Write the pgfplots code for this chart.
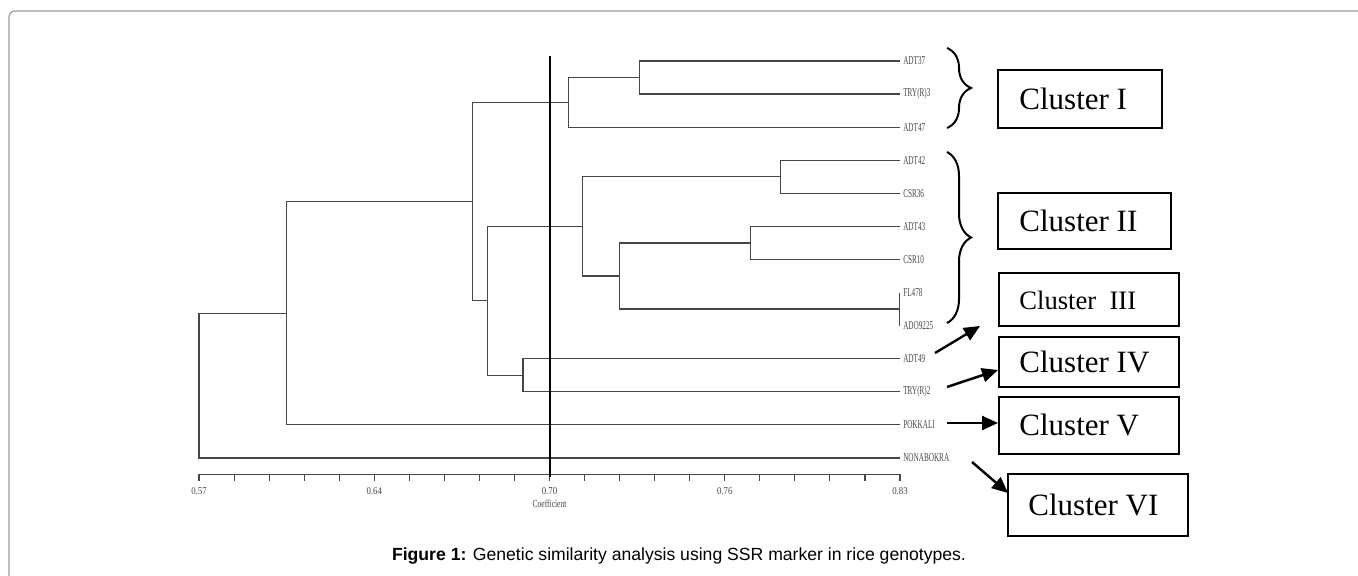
\documentclass[border=0pt]{standalone}
\usepackage{fontspec}
\setmainfont{Liberation Serif}
\newfontfamily\capfont{Liberation Sans}
\usepackage{pgfplots}
\pgfplotsset{compat=1.18}
\usetikzlibrary{arrows.meta,decorations.pathreplacing}

\definecolor{branch}{gray}{0.28}
\definecolor{framegray}{gray}{0.62}

\tikzset{
    br/.style={branch,line width=0.6pt},
    leaf/.style={anchor=west,inner sep=0pt,xshift=1.5pt,
        font=\fontsize{6}{6}\selectfont,xscale=0.6,text=branch},
    cbox/.style={line width=0.8pt},
    ctext/.style={anchor=west,inner sep=0pt,font=\fontsize{15.5}{16}\selectfont},
    carrow/.style={line width=1.2pt,-{Triangle[length=8pt,width=7pt]}},
    cbrace/.style={line width=1pt,decorate,decoration={brace,amplitude=12pt}},
}

\begin{document}
\begin{tikzpicture}[x=0.5pt,y=-0.5pt]
% picture in pixel units of the reference, y downwards
\useasboundingbox (0,0) rectangle (1358,576);
\draw[framegray,line width=0.6pt,rounded corners=3pt] (1400,11) -- (9,11) -- (9,620);

\begin{axis}[
    at={(99.5pt,-237.25pt)}, anchor=south west,
    scale only axis,
    width=350.5pt, height=223.3pt,
    xmin=0.57, xmax=0.83, ymin=0.5, ymax=14,
    axis x line*=bottom, axis y line=none,
    clip=false,
    xtick={0.57,0.635,0.70,0.765,0.83},
    xticklabels={0.57,0.64,0.70,0.76,0.83},
    minor x tick num=4,
    tick align=outside,
    major tick length=3pt, minor tick length=3pt,
    every tick/.style={branch,line width=0.55pt},
    x axis line style={branch,line width=0.55pt},
    xticklabel style={font=\fontsize{5.2}{5}\selectfont,xscale=0.85,text=branch},
    xlabel={Coefficient},
    xlabel style={font=\fontsize{5.4}{5}\selectfont,xscale=0.7,text=branch,yshift=4pt},
]
% leaves: 1 NONABOKRA ... 13 ADT37 (bottom to top)
\addplot[br,no marks] coordinates {(0.83,13) (0.7333,13) (0.7333,12) (0.83,12)};
\addplot[br,no marks] coordinates {(0.7333,12.5) (0.707,12.5) (0.707,11) (0.83,11)};
\addplot[br,no marks] coordinates {(0.83,10) (0.7858,10) (0.7858,9) (0.83,9)};
\addplot[br,no marks] coordinates {(0.83,8) (0.7744,8) (0.7744,7) (0.83,7)};
\addplot[br,no marks] coordinates {(0.8297,6) (0.8297,5)};
\addplot[br,no marks] coordinates {(0.7744,7.5) (0.7259,7.5) (0.7259,5.5) (0.8297,5.5)};
\addplot[br,no marks] coordinates {(0.7858,9.5) (0.7122,9.5) (0.7122,6.5) (0.7259,6.5)};
\addplot[br,no marks] coordinates {(0.83,4) (0.6902,4) (0.6902,3) (0.83,3)};
\addplot[br,no marks] coordinates {(0.7122,8) (0.6769,8) (0.6769,3.5) (0.6902,3.5)};
\addplot[br,no marks] coordinates {(0.707,11.75) (0.6715,11.75) (0.6715,5.75) (0.6769,5.75)};
\addplot[br,no marks] coordinates {(0.6715,8.75) (0.6025,8.75) (0.6025,2) (0.83,2)};
\addplot[br,no marks] coordinates {(0.6025,5.375) (0.57,5.375) (0.57,1) (0.83,1)};
% cut-off line
\addplot[black,line width=1pt,no marks] coordinates {(0.70,0.43) (0.70,13.15)};

\node[leaf] at (axis cs:0.83,13) {ADT37};
\node[leaf] at (axis cs:0.83,12) {TRY(R)3};
\node[leaf] at (axis cs:0.83,11) {ADT47};
\node[leaf] at (axis cs:0.83,10) {ADT42};
\node[leaf] at (axis cs:0.83,9) {CSR36};
\node[leaf] at (axis cs:0.83,8) {ADT43};
\node[leaf] at (axis cs:0.83,7) {CSR10};
\node[leaf] at (axis cs:0.83,6) {FL478};
\node[leaf] at (axis cs:0.83,5) {ADO9225};
\node[leaf] at (axis cs:0.83,4) {ADT49};
\node[leaf] at (axis cs:0.83,3) {TRY(R)2};
\node[leaf] at (axis cs:0.83,2) {POKKALI};
\node[leaf] at (axis cs:0.83,1) {NONABOKRA};
\end{axis}

% braces
\draw[cbrace] (947,48) -- (947,128);
\draw[cbrace] (947,152) -- (947,323);

% cluster boxes
\draw[cbox] (998,70) rectangle (1162,128);
\node[ctext] at (1019,99) {Cluster I};
\draw[cbox] (998,193) rectangle (1171,249);
\node[ctext] at (1019,221) {Cluster II};
\draw[cbox] (999,273) rectangle (1179,326);
\node[ctext,font=\fontsize{13.3}{14}\selectfont] at (1019,300) {Cluster\enspace III};
\draw[cbox] (999,337) rectangle (1179,387);
\node[ctext] at (1019,362) {Cluster IV};
\draw[cbox] (999,397) rectangle (1179,454);
\node[ctext] at (1019,425) {Cluster V};
\draw[cbox] (1008,474) rectangle (1188,536);
\node[ctext] at (1028,505) {Cluster VI};

% arrows
\draw[carrow] (935,353) -- (980,326);
\draw[carrow] (947,387) -- (998,370);
\draw[carrow] (947,423) -- (998,423);
\draw[carrow] (972,462) -- (1008,493);

% caption
\node[font=\capfont\fontsize{8.8}{10}\selectfont] at (679,556)
    {\textbf{Figure 1:} Genetic similarity analysis using SSR marker in rice genotypes.};
\end{tikzpicture}
\end{document}
